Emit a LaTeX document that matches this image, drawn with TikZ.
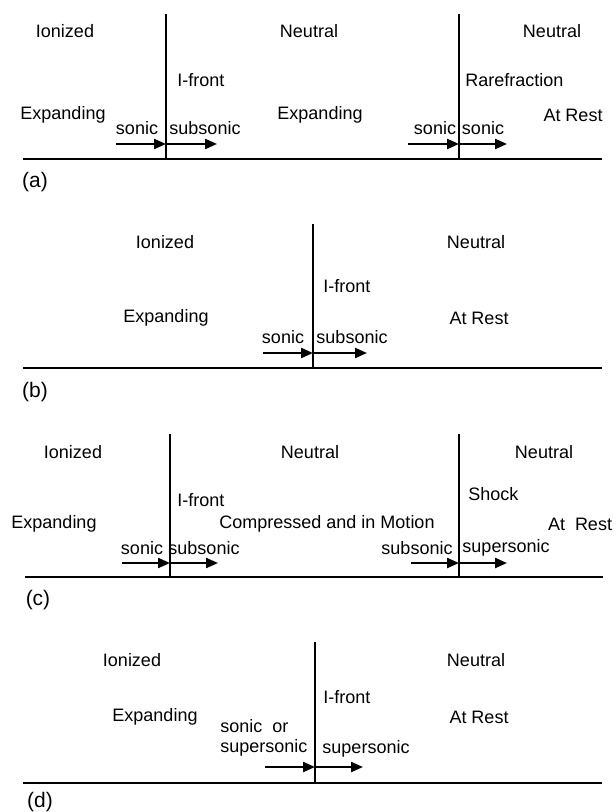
\documentclass[tikz,border=0pt]{standalone}
\usepackage{fontspec}
\setmainfont{Liberation Sans}
\usetikzlibrary{arrows.meta, positioning}

\begin{document}
\begin{tikzpicture}[
    x=0.5pt, y=-0.5pt,
    % styles for the labels and lines
    lbl/.style={font=\fontsize{9}{10}\selectfont, inner sep=0pt},
    tag/.style={font=\fontsize{10.5}{11}\selectfont, inner sep=0pt},
    front/.style={line width=0.6pt},
    base/.style={line width=0.6pt},
    flow/.style={-{Triangle[length=6pt, width=5pt]}, line width=1.1pt}
]
\useasboundingbox (0,0) rectangle (615,812);

% --- (a) ---
\coordinate (a_l) at (23,159);
\coordinate (a_r) at (602,159);
\coordinate (a_f1) at (166,159);
\coordinate (a_f1top) at (166,14);
\coordinate (a_f2) at (459,159);
\coordinate (a_f2top) at (459,14);
\draw [base] (a_l) -- (a_r);
\draw [front] (a_f1top) -- (a_f1);
\draw [front] (a_f2top) -- (a_f2);

\node (a_ion) [lbl] at (65,31) {Ionized};
\node (a_neu1) [lbl] at (309,31) {Neutral};
\node (a_neu2) [lbl] at (552,31) {Neutral};
\node (a_front) [lbl, anchor=west] at (177,80) {I-front};
\node (a_rare) [lbl, anchor=west] at (465,80) {Rarefraction};
\node (a_exp1) [lbl] at (63,115) {Expanding};
\node (a_exp2) [lbl] at (320,115) {Expanding};
\node (a_rest) [lbl] at (573,115) {At Rest};
\node (a_in1) [lbl] at (137,128) {sonic};
\node (a_out1) [lbl] at (205,128) {subsonic};
\node (a_in2) [lbl] at (435,128) {sonic};
\node (a_out2) [lbl] at (483,128) {sonic};

\coordinate (a_s1) at (116,144);
\coordinate (a_m1) at (166,144);
\coordinate (a_e1) at (217,144);
\coordinate (a_s2) at (408,144);
\coordinate (a_m2) at (459,144);
\coordinate (a_e2) at (507,144);
\draw [flow] (a_s1) -- (a_m1);
\draw [flow] (a_m1) -- (a_e1);
\draw [flow] (a_s2) -- (a_m2);
\draw [flow] (a_m2) -- (a_e2);

\node (a_tag) [tag] at (35,182) {(a)};

% --- (b) ---
\coordinate (b_l) at (23,368);
\coordinate (b_r) at (602,368);
\coordinate (b_f) at (313,368);
\coordinate (b_ftop) at (313,224);
\draw [base] (b_l) -- (b_r);
\draw [front] (b_ftop) -- (b_f);

\node (b_ion) [lbl] at (165,242) {Ionized};
\node (b_neu) [lbl] at (476,242) {Neutral};
\node (b_front) [lbl, anchor=west] at (323,286) {I-front};
\node (b_exp) [lbl] at (166,318) {Expanding};
\node (b_rest) [lbl] at (479,318) {At Rest};
\node (b_in) [lbl] at (283,337) {sonic};
\node (b_out) [lbl] at (352,337) {subsonic};

\coordinate (b_s) at (263,353);
\coordinate (b_m) at (313,353);
\coordinate (b_e) at (367,353);
\draw [flow] (b_s) -- (b_m);
\draw [flow] (b_m) -- (b_e);

\node (b_tag) [tag] at (35,392) {(b)};

% --- (c) ---
\coordinate (c_l) at (25,577);
\coordinate (c_r) at (603,577);
\coordinate (c_f1) at (170,577);
\coordinate (c_f1top) at (170,434);
\coordinate (c_f2) at (459,577);
\coordinate (c_f2top) at (459,434);
\draw [base] (c_l) -- (c_r);
\draw [front] (c_f1top) -- (c_f1);
\draw [front] (c_f2top) -- (c_f2);

\node (c_ion) [lbl] at (73,452) {Ionized};
\node (c_neu1) [lbl] at (310,452) {Neutral};
\node (c_neu2) [lbl] at (544,452) {Neutral};
\node (c_front) [lbl, anchor=west] at (177,500) {I-front};
\node (c_shock) [lbl, anchor=west] at (468,494) {Shock};
\node (c_exp) [lbl] at (54,524) {Expanding};
\node (c_comp) [lbl] at (327,524) {Compressed and in Motion};
\node (c_rest) [lbl] at (580,524) {At \ Rest};
\node (c_in1) [lbl] at (142,548) {sonic};
\node (c_out1) [lbl] at (204,548) {subsonic};
\node (c_in2) [lbl] at (417,548) {subsonic};
\node (c_out2) [lbl] at (506,548) {supersonic};

\coordinate (c_s1) at (122,563);
\coordinate (c_m1) at (170,563);
\coordinate (c_e1) at (218,563);
\coordinate (c_s2) at (411,563);
\coordinate (c_m2) at (459,563);
\coordinate (c_e2) at (507,563);
\draw [flow] (c_s1) -- (c_m1);
\draw [flow] (c_m1) -- (c_e1);
\draw [flow] (c_s2) -- (c_m2);
\draw [flow] (c_m2) -- (c_e2);

\node (c_tag) [tag] at (38,600) {(c)};

% --- (d) ---
\coordinate (d_l) at (23,783);
\coordinate (d_r) at (602,783);
\coordinate (d_f) at (315,783);
\coordinate (d_ftop) at (315,642);
\draw [base] (d_l) -- (d_r);
\draw [front] (d_ftop) -- (d_f);

\node (d_ion) [lbl] at (132,660) {Ionized};
\node (d_neu) [lbl] at (476,660) {Neutral};
\node (d_front) [lbl, anchor=west] at (323,697) {I-front};
\node (d_exp) [lbl] at (155,717) {Expanding};
\node (d_rest) [lbl] at (479,717) {At Rest};
\node (d_in) [lbl, align=left, anchor=west] at (220,738) {sonic \ or\\supersonic};
\node (d_out) [lbl] at (366,749) {supersonic};

\coordinate (d_s) at (265,767);
\coordinate (d_m) at (315,767);
\coordinate (d_e) at (363,767);
\draw [flow] (d_s) -- (d_m);
\draw [flow] (d_m) -- (d_e);

\node (d_tag) [tag] at (40,802) {(d)};

\end{tikzpicture}
\end{document}
